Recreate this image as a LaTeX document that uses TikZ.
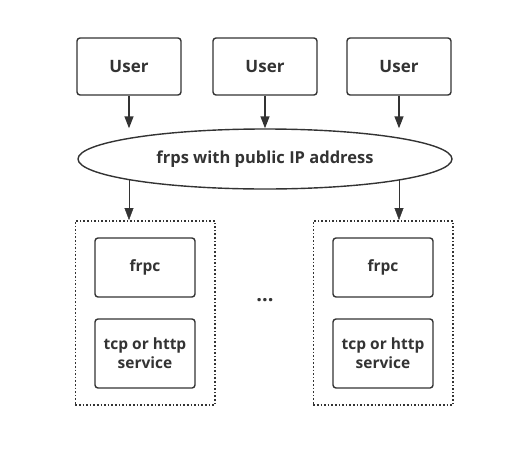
\documentclass[tikz,border=0pt]{standalone}
\usepackage{fontspec}
\setmainfont{Open Sans}
\usetikzlibrary{arrows.meta, positioning, shapes.geometric, fit, backgrounds}
\definecolor{ink}{HTML}{333333}

\begin{document}
\begin{tikzpicture}[x=1pt, y=-1pt, >={Triangle[length=12pt, width=9pt]}, line width=1.4pt]

% Canvas
\useasboundingbox (0,0) rectangle (532,455);

\tikzset{
  userbox/.style={draw=ink, rounded corners=3pt, minimum width=104pt, minimum height=57pt,
    text=ink, font=\bfseries\fontsize{17}{19}\selectfont},
  innerbox/.style={draw=ink, rounded corners=3pt, minimum width=100pt,
    text=ink, align=center, font=\bfseries\fontsize{15.5}{19}\selectfont},
  hostbox/.style={draw=ink, dotted, line width=1.6pt, inner xsep=19pt, inner ysep=16.5pt},
  flow/.style={->, draw=ink}
}

% Users
\node[userbox] (user1) at (129,66.5) {User};
\node[userbox] (user2) at (265,66.5) {User};
\node[userbox] (user3) at (399,66.5) {User};

% Server
\node[ellipse, draw=ink, fill=white, minimum width=374pt, minimum height=60pt, inner sep=0pt,
  text=ink, font=\bfseries\fontsize{16.5}{19}\selectfont] (frps) at (265,159) {frps with public IP address};

% Left host
\node[innerbox, minimum height=59pt] (frpcA) at (145,267.5) {frpc};
\node[innerbox, minimum height=69pt] (svcA) at (145,353.5) {tcp or http\\service};
\node[hostbox, fit=(frpcA) (svcA)] (hostA) {};

% Right host
\node[innerbox, minimum height=59pt] (frpcB) at (383,267.5) {frpc};
\node[innerbox, minimum height=69pt] (svcB) at (383,353.5) {tcp or http\\service};
\node[hostbox, fit=(frpcB) (svcB)] (hostB) {};

% Dots between hosts
\node[text=ink, font=\bfseries\fontsize{20}{20}\selectfont] (more) at (265,300) {...};

% Connectors
\draw[flow] (user1) -- (user1 |- frps.north);
\draw[flow] (user2) -- (frps.north);
\draw[flow] (user3) -- (user3 |- frps.north);
\begin{scope}[on background layer]
  \draw[flow] (user1 |- frps.center) -- (user1 |- hostA.north);
  \draw[flow] (user3 |- frps.center) -- (user3 |- hostB.north);
\end{scope}

\end{tikzpicture}
\end{document}
